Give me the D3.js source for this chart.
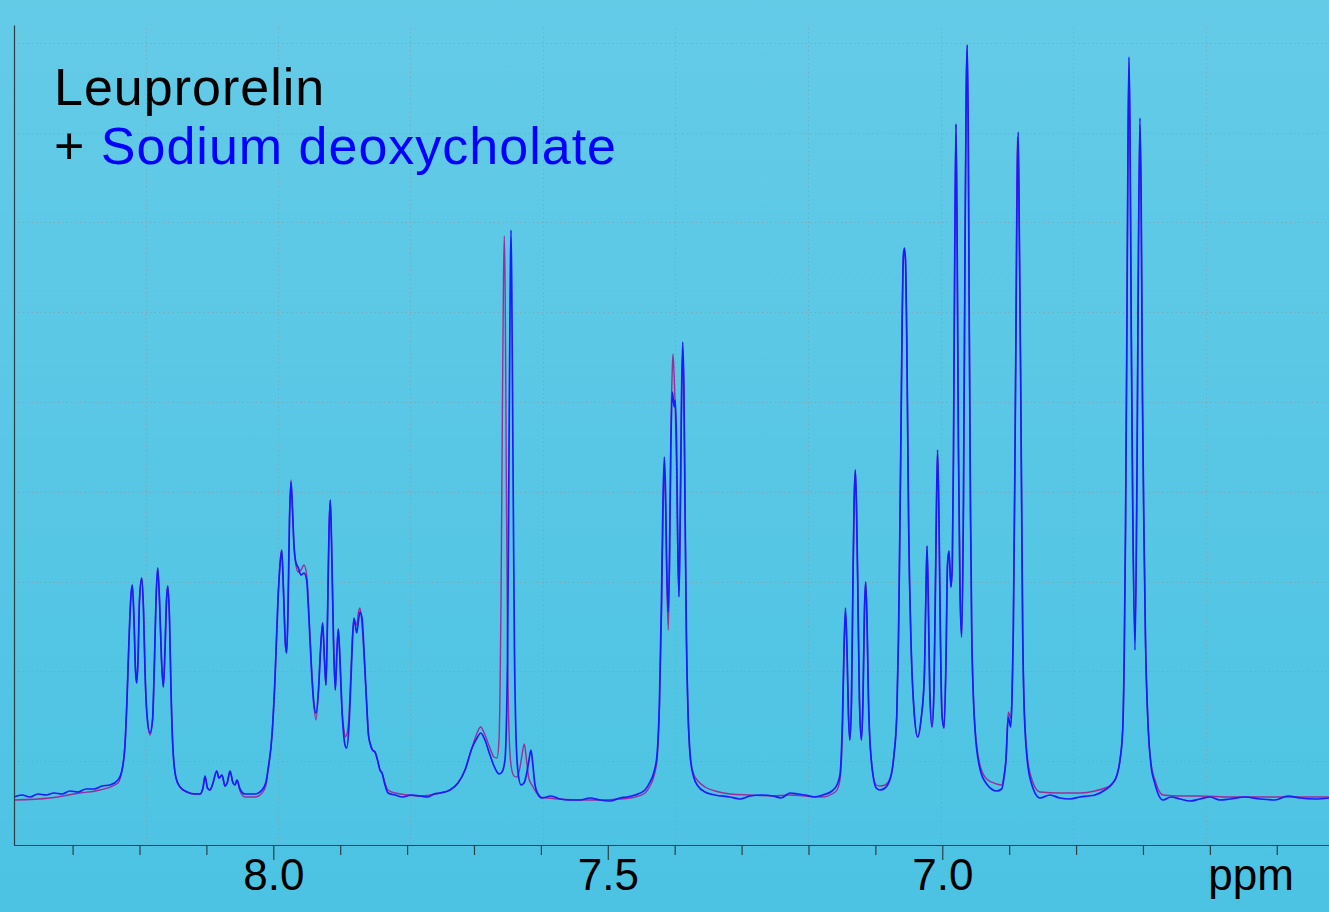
<!DOCTYPE html>
<html><head><meta charset="utf-8">
<script src="https://cdn.jsdelivr.net/npm/d3@7"></script>
<style>html,body{margin:0;padding:0;overflow:hidden;background:#55c6e4}</style>
</head><body>
<svg id="chart" width="1329" height="912"></svg>
<script>
// Spectrum: [chemical shift (ppm), intensity (a.u.)]
const spectrumBlue = [
[8.3876,0],[8.3756,2],[8.3637,0],[8.3517,3],[8.3398,2],[8.3278,4],[8.3159,3],[8.3039,6],[8.2919,5],[8.2800,8],[8.2680,8],[8.2561,11],[8.2441,12],[8.2321,17],
[8.2261,27],[8.2217,52],[8.2187,97],[8.2157,157],[8.2127,202],[8.2107,212],[8.2082,177],[8.2060,127],[8.2042,114],[8.2022,137],[8.2000,197],[8.1967,219],[8.1940,187],[8.1918,127],[8.1888,82],[8.1843,64],[8.1805,77],[8.1776,137],[8.1753,197],[8.1728,229],[8.1701,197],[8.1671,137],[8.1644,110],[8.1619,147],[8.1596,197],[8.1578,211],[8.1551,177],[8.1529,107],[8.1499,47],[8.1454,19],[8.1394,10],[8.1290,5],[8.1170,3],
[8.1096,3],[8.1051,9],[8.1021,21],[8.0984,9],[8.0946,7],[8.0901,14],[8.0846,26],[8.0812,19],[8.0767,22],[8.0722,11],[8.0685,15],[8.0647,26],[8.0602,14],[8.0573,12],[8.0543,17],[8.0498,8],[8.0423,3],[8.0274,3],[8.0169,7],[8.0109,15],
[8.0079,27],[8.0019,62],[7.9975,117],[7.9930,197],[7.9900,232],[7.9874,247],[7.9848,207],[7.9818,152],[7.9800,144],[7.9780,187],[7.9758,277],[7.9735,315],[7.9713,287],[7.9691,252],[7.9661,234],[7.9631,230],[7.9586,222],[7.9541,224],[7.9501,217],[7.9466,177],[7.9429,127],[7.9392,92],[7.9362,84],[7.9324,107],[7.9294,147],[7.9262,174],[7.9235,137],[7.9212,112],[7.9190,177],[7.9167,267],[7.9148,297],[7.9130,257],[7.9100,157],[7.9073,107],[7.9048,147],[7.9028,168],[7.9003,137],[7.8973,87],[7.8943,59],[7.8928,52],[7.8903,49],[7.8868,72],[7.8839,117],[7.8816,157],[7.8794,179],[7.8753,164],[7.8726,177],[7.8704,185],[7.8674,179],[7.8644,147],[7.8607,97],[7.8577,62],[7.8554,54],[7.8517,47],[7.8480,45],[7.8442,37],[7.8405,27],[7.8375,24],[7.8330,12],[7.8285,4],[7.8181,2],
[7.8061,0],[7.7942,2],[7.7807,1],[7.7688,0],[7.7598,3],[7.7508,4],[7.7359,7],[7.7239,14],[7.7134,27],[7.7030,49],[7.6955,59],[7.6900,64],[7.6836,57],[7.6761,42],[7.6701,31],[7.6656,25],[7.6626,23],[7.6581,25],[7.6537,37],[7.6499,137],[7.6477,337],[7.6459,507],[7.6447,567],[7.6435,507],[7.6417,337],[7.6395,147],[7.6372,62],[7.6342,25],[7.6297,12],[7.6253,14],[7.6208,25],[7.6178,37],[7.6148,47],[7.6118,31],[7.6088,12],[7.6043,3],[7.5983,-1],
[7.5849,1],[7.5714,-2],[7.5580,-3],[7.5415,-3],[7.5266,-1],[7.5116,-3],[7.4967,-4],[7.4818,-1],[7.4713,0],[7.4593,2],[7.4444,7],[7.4369,15],
[7.4309,25],[7.4264,42],[7.4227,97],[7.4197,197],[7.4175,297],[7.4155,340],[7.4137,307],[7.4118,227],[7.4096,185],[7.4078,237],[7.4058,347],[7.4036,405],[7.4006,390],[7.3991,397],[7.3973,357],[7.3954,257],[7.3936,200],[7.3918,277],[7.3898,397],[7.3880,455],[7.3862,407],[7.3846,297],[7.3824,157],[7.3801,87],[7.3761,37],[7.3711,19],[7.3652,11],[7.3547,5],[7.3398,2],[7.3173,0],
[7.3024,-2],[7.2874,1],[7.2695,2],[7.2531,1],[7.2411,-1],[7.2276,4],[7.2157,3],[7.2052,2],[7.1918,0],[7.1783,2],[7.1649,6],[7.1574,12],
[7.1529,22],[7.1492,77],[7.1469,147],[7.1447,189],[7.1424,147],[7.1402,82],[7.1382,57],[7.1357,97],[7.1335,217],[7.1317,297],[7.1299,327],[7.1281,287],[7.1260,197],[7.1238,97],[7.1209,57],[7.1185,97],[7.1163,187],[7.1145,215],[7.1125,177],[7.1103,97],[7.1061,37],[7.0986,9],[7.0931,7],[7.0856,9],[7.0767,21],[7.0722,42],[7.0680,82],[7.0655,157],[7.0640,232],[7.0617,367],[7.0599,477],[7.0581,542],[7.0566,549],[7.0551,539],[7.0530,455],[7.0502,269],[7.0468,157],[7.0417,82],[7.0367,60],[7.0318,77],[7.0269,119],[7.0246,197],[7.0228,251],[7.0209,197],[7.0187,107],[7.0154,70],[7.0124,107],[7.0097,237],[7.0071,347],[7.0049,277],[7.0027,157],[7.0004,82],[6.9974,69],[6.9944,137],[6.9922,232],[6.9900,246],[6.9870,210],[6.9850,231],[6.9832,347],[6.9813,547],[6.9795,673],[6.9777,547],[6.9758,347],[6.9735,207],[6.9710,160],[6.9683,297],[6.9660,547],[6.9642,707],[6.9627,752],[6.9612,667],[6.9596,468],[6.9578,287],[6.9560,168],[6.9536,102],[6.9511,68],[6.9436,28],[6.9336,13],[6.9187,6],[6.9112,8],[6.9078,19],[6.9048,37],[6.9013,80],[6.8977,70],[6.8958,97],[6.8938,167],[6.8916,317],[6.8898,468],[6.8879,622],[6.8864,665],[6.8846,547],[6.8828,418],[6.8798,168],[6.8764,69],[6.8689,19],[6.8539,-1],
[6.8390,2],[6.8240,-1],[6.8091,-2],[6.7941,0],[6.7822,1],[6.7717,2],[6.7568,7],[6.7463,13],[6.7388,22],[6.7343,37],[6.7303,67],[6.7279,147],[6.7261,265],[6.7242,447],[6.7224,647],[6.7209,740],[6.7194,667],[6.7175,467],[6.7154,297],[6.7119,147],[6.7089,327],[6.7067,547],[6.7045,679],[6.7027,597],[6.7007,397],[6.6985,265],[6.6962,157],[6.6920,67],[6.6880,32],[6.6820,13],[6.6701,-3],[6.6581,0],[6.6447,-2],[6.6297,-4],[6.6148,-2],[6.5998,0],[6.5849,-3],[6.5699,-2],[6.5475,0],[6.5251,-2],[6.5027,-3],[6.4832,1],[6.4653,-1],[6.4429,-2],[6.4219,-1]
];

const spectrumPurple = [
[8.3876,-3],[8.3338,-1],[8.2889,4],[8.2590,7],[8.2321,14],
[8.2261,27],[8.2217,52],[8.2187,97],[8.2157,157],[8.2127,202],[8.2107,212],[8.2082,177],[8.2060,127],[8.2042,114],[8.2022,137],[8.2000,197],[8.1967,219],[8.1940,187],[8.1918,127],[8.1888,82],[8.1843,62],[8.1805,77],[8.1776,137],[8.1753,197],[8.1728,229],[8.1701,197],[8.1671,137],[8.1644,110],[8.1619,147],[8.1596,197],[8.1578,211],[8.1551,177],[8.1529,107],[8.1499,47],[8.1454,19],[8.1394,10],[8.1290,5],[8.1170,3],
[8.1096,3],[8.1051,9],[8.1021,21],[8.0984,9],[8.0946,7],[8.0901,14],[8.0846,26],[8.0812,19],[8.0767,22],[8.0722,11],[8.0685,15],[8.0647,26],[8.0602,14],[8.0573,12],[8.0543,17],[8.0498,6],[8.0423,0],[8.0274,0],[8.0169,4],[8.0109,12],
[8.0079,27],[8.0019,62],[7.9975,117],[7.9930,197],[7.9900,232],[7.9874,247],[7.9848,207],[7.9818,152],[7.9800,144],[7.9780,187],[7.9758,277],[7.9735,317],[7.9713,287],[7.9691,252],[7.9661,232],[7.9631,225],[7.9586,227],[7.9541,232],[7.9501,222],[7.9466,182],[7.9429,132],[7.9392,92],[7.9362,77],[7.9324,107],[7.9294,147],[7.9262,174],[7.9235,137],[7.9212,112],[7.9190,177],[7.9167,267],[7.9148,297],[7.9130,257],[7.9100,157],[7.9073,107],[7.9048,147],[7.9028,168],[7.9003,137],[7.8973,87],[7.8943,67],[7.8928,60],[7.8903,62],[7.8868,82],[7.8839,127],[7.8816,162],[7.8794,177],[7.8753,172],[7.8726,185],[7.8704,189],[7.8674,172],[7.8644,142],[7.8607,97],[7.8577,62],[7.8554,54],[7.8517,47],[7.8480,45],[7.8442,37],[7.8405,27],[7.8375,24],[7.8330,14],[7.8285,7],[7.8181,4],
[7.7807,1],[7.7508,4],[7.7359,7],[7.7239,14],[7.7134,27],[7.7030,49],[7.6955,64],[7.6900,70],[7.6836,62],[7.6761,49],[7.6701,40],[7.6656,39],[7.6626,57],[7.6596,197],[7.6574,397],[7.6559,517],[7.6547,561],[7.6534,507],[7.6519,347],[7.6499,157],[7.6477,67],[7.6447,32],[7.6402,21],[7.6357,20],[7.6320,27],[7.6282,42],[7.6248,53],[7.6215,37],[7.6178,18],[7.6133,12],[7.6073,5],[7.6013,0],
[7.5714,-2],[7.5415,-3],[7.5116,-3],[7.4818,-2],[7.4593,0],[7.4444,4],[7.4369,11],
[7.4309,21],[7.4264,37],[7.4227,92],[7.4197,182],[7.4175,277],[7.4155,323],[7.4137,297],[7.4118,217],[7.4096,167],[7.4078,227],[7.4058,357],[7.4036,427],[7.4025,443],[7.4006,417],[7.3991,387],[7.3973,337],[7.3954,247],[7.3936,202],[7.3918,267],[7.3898,387],[7.3880,447],[7.3862,402],[7.3846,297],[7.3824,157],[7.3801,85],[7.3761,35],[7.3711,22],[7.3652,16],[7.3547,10],[7.3398,6],[7.3173,3],
[7.2874,2],[7.2531,1],[7.2276,2],[7.2052,1],[7.1783,0],[7.1649,3],[7.1574,7],
[7.1529,17],[7.1492,67],[7.1469,147],[7.1447,185],[7.1424,147],[7.1402,82],[7.1382,57],[7.1357,97],[7.1335,217],[7.1317,297],[7.1299,327],[7.1281,287],[7.1260,197],[7.1238,97],[7.1209,57],[7.1185,97],[7.1163,187],[7.1145,215],[7.1125,177],[7.1103,97],[7.1061,37],[7.0986,12],[7.0931,11],[7.0856,12],[7.0767,21],[7.0722,42],[7.0680,82],[7.0655,157],[7.0640,232],[7.0617,367],[7.0599,477],[7.0581,540],[7.0566,545],[7.0551,539],[7.0530,455],[7.0502,269],[7.0468,157],[7.0417,82],[7.0367,60],[7.0318,77],[7.0269,119],[7.0246,197],[7.0228,251],[7.0209,197],[7.0187,107],[7.0154,70],[7.0124,107],[7.0097,237],[7.0071,347],[7.0049,277],[7.0027,157],[7.0004,82],[6.9974,69],[6.9944,137],[6.9922,232],[6.9900,246],[6.9870,210],[6.9850,231],[6.9832,347],[6.9813,547],[6.9795,673],[6.9777,547],[6.9758,347],[6.9735,207],[6.9710,160],[6.9683,297],[6.9660,547],[6.9642,707],[6.9627,752],[6.9612,667],[6.9596,468],[6.9578,287],[6.9560,168],[6.9536,102],[6.9511,70],[6.9436,32],[6.9336,18],[6.9187,13],[6.9112,12],[6.9078,21],[6.9048,37],[6.9013,85],[6.8977,79],[6.8958,100],[6.8938,167],[6.8916,317],[6.8898,468],[6.8879,660],[6.8864,647],[6.8846,547],[6.8828,418],[6.8798,168],[6.8764,72],[6.8689,24],[6.8539,5],
[6.8240,4],[6.7941,4],[6.7717,6],[6.7568,9],[6.7463,13],[6.7388,22],[6.7343,37],[6.7303,67],[6.7279,147],[6.7261,265],[6.7242,447],[6.7224,647],[6.7209,735],[6.7194,667],[6.7175,467],[6.7154,297],[6.7119,157],[6.7089,327],[6.7067,547],[6.7045,672],[6.7027,597],[6.7007,397],[6.6985,265],[6.6962,157],[6.6920,67],[6.6880,34],[6.6820,17],[6.6701,2],[6.6447,1],[6.6148,1],[6.5699,0],[6.5251,0],[6.4653,0],[6.4219,0]
];

const majorTicks = [8.0, 7.5, 7.0];
const minorTicks = [8.3, 8.2, 8.1, 7.9, 7.8, 7.7, 7.6, 7.4, 7.3, 7.2, 7.1, 6.9, 6.8, 6.7, 6.6, 6.5];
const gridPpm = [8.19, 7.993, 7.795, 7.597, 7.399, 7.201, 7.002, 6.804, 6.606];
const gridIntensity = [754, 664, 574.5, 485, 395, 305, 215.5, 126, 36];
const ppmRange = [8.3876, 6.4219];
const intensityRange = [-48, 772];
const titleLine1 = "Leuprorelin";
const titleLine2Prefix = "+ ";
const titleLine2Name = "Sodium deoxycholate";
const axisUnit = "ppm";

const W = 1329, H = 912;
const plot = {left: 14, right: 1329, top: 25, bottom: 845};
const FONT = "'Liberation Sans', Arial, Helvetica, sans-serif";

const svg = d3.select("#chart");
const defs = svg.append("defs");
const grad = defs.append("linearGradient").attr("id", "bg").attr("x1", 0).attr("y1", 0).attr("x2", 0).attr("y2", 1);
grad.append("stop").attr("offset", "0%").attr("stop-color", "#64cbe7");
grad.append("stop").attr("offset", "100%").attr("stop-color", "#4cc3e3");
svg.append("rect").attr("width", W).attr("height", H).attr("fill", "url(#bg)");

const x = d3.scaleLinear().domain(ppmRange).range([plot.left, plot.right]);
const y = d3.scaleLinear().domain(intensityRange).range([plot.bottom, plot.top]);

// grid
const grid = svg.append("g").attr("stroke", "#7f9fab").attr("stroke-opacity", 0.75)
  .attr("stroke-width", 1).attr("stroke-dasharray", "1.2,3.2").attr("fill", "none");
grid.selectAll("line.h").data(gridIntensity).join("line").attr("class", "h")
  .attr("x1", plot.left).attr("x2", plot.right)
  .attr("y1", d => Math.round(y(d)) + 0.5).attr("y2", d => Math.round(y(d)) + 0.5);
grid.selectAll("line.v").data(gridPpm).join("line").attr("class", "v")
  .attr("y1", plot.top + 3).attr("y2", plot.bottom)
  .attr("x1", d => Math.round(x(d)) + 0.5).attr("x2", d => Math.round(x(d)) + 0.5);

// spectra
const line = d3.line().x(d => x(d[0])).y(d => y(d[1])).curve(d3.curveMonotoneX);
svg.append("path").datum(spectrumPurple).attr("d", line)
  .attr("fill", "none").attr("stroke", "#9c2d98").attr("stroke-width", 1.4).attr("stroke-linejoin", "round");
svg.append("path").datum(spectrumBlue).attr("d", line)
  .attr("fill", "none").attr("stroke", "#1b1bff").attr("stroke-width", 1.7).attr("stroke-linejoin", "round");

// axes
const axisColor = "#2f3d44";
const gMinor = svg.append("g").attr("transform", `translate(0,${plot.bottom})`)
  .call(d3.axisBottom(x).tickValues(minorTicks).tickSize(10).tickSizeOuter(0).tickFormat(""));
const gMajor = svg.append("g").attr("transform", `translate(0,${plot.bottom})`)
  .call(d3.axisBottom(x).tickValues(majorTicks).tickSize(15).tickSizeOuter(0).tickFormat(d3.format(".1f")));
gMajor.select(".domain").remove();
[gMinor, gMajor].forEach(g => {
  g.selectAll("path,line").attr("stroke", axisColor).attr("stroke-width", 1.2);
});
gMajor.selectAll("text").attr("fill", "#000").attr("y", 45).attr("dy", null)
  .style("font-family", FONT).style("font-size", "44px");

const gLeft = svg.append("g").attr("transform", `translate(${plot.left},0)`)
  .call(d3.axisLeft(y).tickValues([]).tickSizeOuter(0));
gLeft.select(".domain").attr("stroke", axisColor).attr("stroke-width", 1.2);

svg.append("text").attr("x", 1251).attr("y", 890).attr("text-anchor", "middle")
  .style("font-family", FONT).style("font-size", "44px").attr("fill", "#000").text(axisUnit);

// title: two lines
svg.append("text").attr("x", 54).attr("y", 104.5)
  .style("font-family", FONT).style("font-size", "52px").style("letter-spacing", "1px")
  .attr("fill", "#000").text(titleLine1);
const t2 = svg.append("text").attr("x", 54).attr("y", 163.5)
  .style("font-family", FONT).style("font-size", "52px").style("letter-spacing", "1px")
  .attr("xml:space", "preserve");
t2.append("tspan").attr("fill", "#000").text(titleLine2Prefix);
t2.append("tspan").attr("fill", "#0000ff").text(titleLine2Name);
</script>
</body></html>
